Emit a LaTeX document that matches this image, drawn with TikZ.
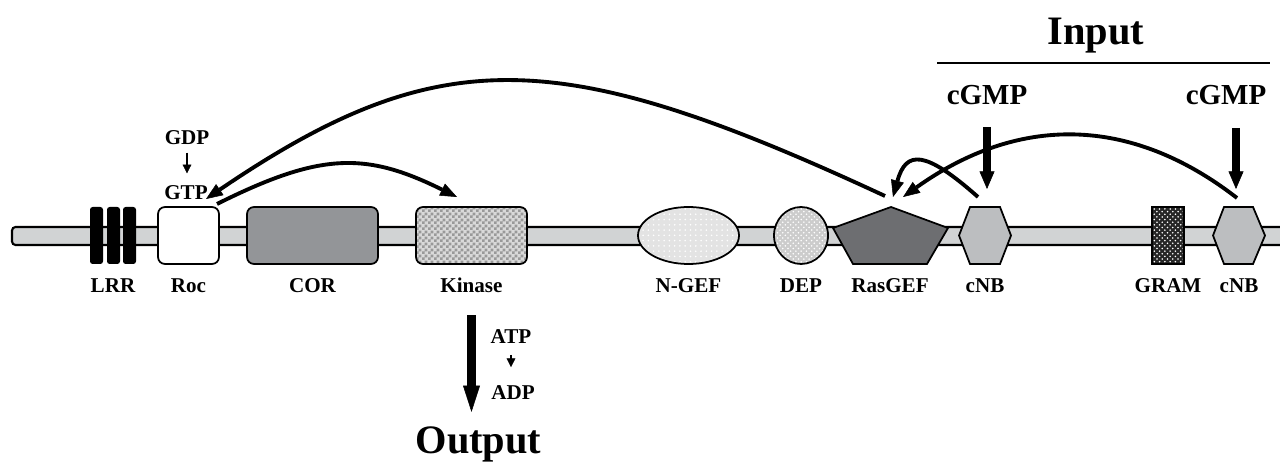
\documentclass[tikz,border=0pt]{standalone}
\usepackage{fontspec}
\setmainfont{Liberation Serif}
\usepackage{xcolor}
\usetikzlibrary{arrows.meta,patterns}

\definecolor{ejegris}{HTML}{D1D3D4}
\definecolor{corgris}{HTML}{939598}
\definecolor{rasgris}{HTML}{6D6E71}
\definecolor{cnbgris}{HTML}{BCBEC0}

% cuadricula fina para la quinasa
\pgfdeclarepatternformonly{cuadrofino}{\pgfqpoint{0pt}{0pt}}{\pgfqpoint{3.2pt}{3.2pt}}{\pgfqpoint{3.2pt}{3.2pt}}{
  \pgfpathrectangle{\pgfqpoint{0pt}{0pt}}{\pgfqpoint{1.6pt}{1.6pt}}
  \pgfpathrectangle{\pgfqpoint{1.6pt}{1.6pt}}{\pgfqpoint{1.6pt}{1.6pt}}
  \pgfusepath{fill}}

\begin{document}
\begin{tikzpicture}[x=0.02cm, y=-0.02cm,
    lbl/.style={font=\bfseries\fontsize{12}{14}\selectfont, anchor=base, inner sep=0pt},
    cgmp/.style={font=\bfseries\fontsize{16.5}{19}\selectfont, anchor=base, inner sep=0pt},
    titulo/.style={font=\bfseries\fontsize{23}{27}\selectfont, anchor=base, inner sep=0pt},
    dominio/.style={line width=1pt, rounded corners=4pt},
    curva/.style={line width=2.2pt, -{Triangle[length=9.5pt,width=7.5pt,line width=0.3pt]}},
    gorda/.style={line width=4.6pt, -{Triangle[length=10pt,width=8.5pt,line width=0.3pt]}},
    fina/.style={line width=0.7pt, -{Triangle[length=5pt,width=5pt,line width=0.3pt]}}]
  \useasboundingbox (0,0) rectangle (1280,462);

  % eje de la proteina
  \draw[line width=1.2pt, fill=ejegris, rounded corners=2pt] (12,227) rectangle (1300,245);

  % LRR
  \foreach \xa in {90,107,123}
    \fill[black, rounded corners=1.5pt] (\xa,207) rectangle ++(13,57);
  % Roc, COR, Kinase
  \draw[dominio, fill=white] (158,207) rectangle (219,264);
  \draw[dominio, fill=corgris] (247,207) rectangle (378,264);
  \draw[dominio, preaction={fill=gray!30}, pattern=cuadrofino, pattern color=gray!80] (416,207) rectangle (527,264);
  % N-GEF, DEP
  \draw[line width=1pt, preaction={fill=gray!22}, pattern=dots, pattern color=white] (688.5,235.5) ellipse (50.5 and 28.5);
  \draw[line width=1pt, preaction={fill=gray!40}, pattern=crosshatch dots, pattern color=white] (801,235.5) ellipse (27 and 28.5);
  % RasGEF
  \draw[line width=1pt, fill=rasgris] (891,207) -- (948,228) -- (927,264) -- (853,264) -- (833,228) -- cycle;
  % cNB
  \draw[line width=1pt, fill=cnbgris] (970,207) -- (1000,207) -- (1011,235.5) -- (1000,264) -- (970,264) -- (959,235.5) -- cycle;
  \draw[line width=1pt, fill=cnbgris] (1224,207) -- (1253,207) -- (1265,235.5) -- (1253,264) -- (1224,264) -- (1213,235.5) -- cycle;
  % GRAM
  \draw[line width=1pt, preaction={fill=black!85}, pattern=crosshatch dots, pattern color=white] (1152,207) rectangle (1184,264);

  % nombres de los dominios
  \node[lbl] (lrr) at (113,293) {LRR};
  \node[lbl] (roc) at (188.5,293) {Roc};
  \node[lbl] (cor) at (312.5,293) {COR};
  \node[lbl] (kinase) at (471.5,293) {Kinase};
  \node[lbl] (ngef) at (688.5,293) {N-GEF};
  \node[lbl] (dep) at (801,293) {DEP};
  \node[lbl] (rasgef) at (890,293) {RasGEF};
  \node[lbl] (cnbA) at (985,293) {cNB};
  \node[lbl] (gram) at (1168,293) {GRAM};
  \node[lbl] (cnbB) at (1239,293) {cNB};

  % GDP / GTP
  \node[lbl] (gdp) at (187,145) {GDP};
  \node[lbl] (gtp) at (186,200) {GTP};
  \draw[fina, shorten <=4pt, shorten >=7pt] (gdp.south) -- (gdp.south |- gtp.north);

  % salida
  \node[lbl] (atp) at (511,343) {ATP};
  \node[lbl] (adp) at (513,399) {ADP};
  \draw[fina, shorten <=6.5pt, shorten >=10pt] (atp.south) -- (atp.south |- adp.north);
  \node[titulo] (output) at (478.5,453) {Output};
  \coordinate (kinAbajo) at (471.5,315);
  \coordinate (outArriba) at (471.5,412);
  \draw[line width=5pt, -{Triangle[length=15pt,width=9.6pt,line width=0.3pt]}] (kinAbajo) -- (outArriba);

  % entrada
  \node[titulo] (input) at (1096,45) {Input};
  \coordinate (reglaIzq) at (937,63);
  \coordinate (reglaDer) at (1270,63);
  \draw[line width=1.7pt] (reglaIzq) -- (reglaDer);
  \node[cgmp] (cgmpA) at (987,105) {cGMP};
  \node[cgmp] (cgmpB) at (1226,105) {cGMP};
  \coordinate (cgmpAbajoA) at (987,127);
  \coordinate (cnbArribaA) at (987,189);
  \coordinate (cgmpAbajoB) at (1236,128);
  \coordinate (cnbArribaB) at (1236,189);
  \draw[gorda] (cgmpAbajoA) -- (cnbArribaA);
  \draw[gorda] (cgmpAbajoB) -- (cnbArribaB);

  % flechas curvas
  \coordinate (rasSal) at (885,196);
  \coordinate (gtpEnt) at (206,199);
  \coordinate (rocSal) at (217,204);
  \coordinate (kinEnt) at (457,197);
  \coordinate (cnbSalA) at (978,197);
  \coordinate (rasEntA) at (893,197);
  \coordinate (cnbSalB) at (1237,198);
  \coordinate (rasEntB) at (903,197);
  \draw[curva] (rasSal) .. controls (560,45) and (440,40) .. (gtpEnt);
  \draw[curva] (rocSal) .. controls (321,152) and (366,152) .. (kinEnt);
  \draw[curva] (cnbSalA) .. controls (925,150) and (906,150) .. (rasEntA);
  \draw[curva] (cnbSalB) .. controls (1130,115) and (1018,115) .. (rasEntB);
\end{tikzpicture}
\end{document}
